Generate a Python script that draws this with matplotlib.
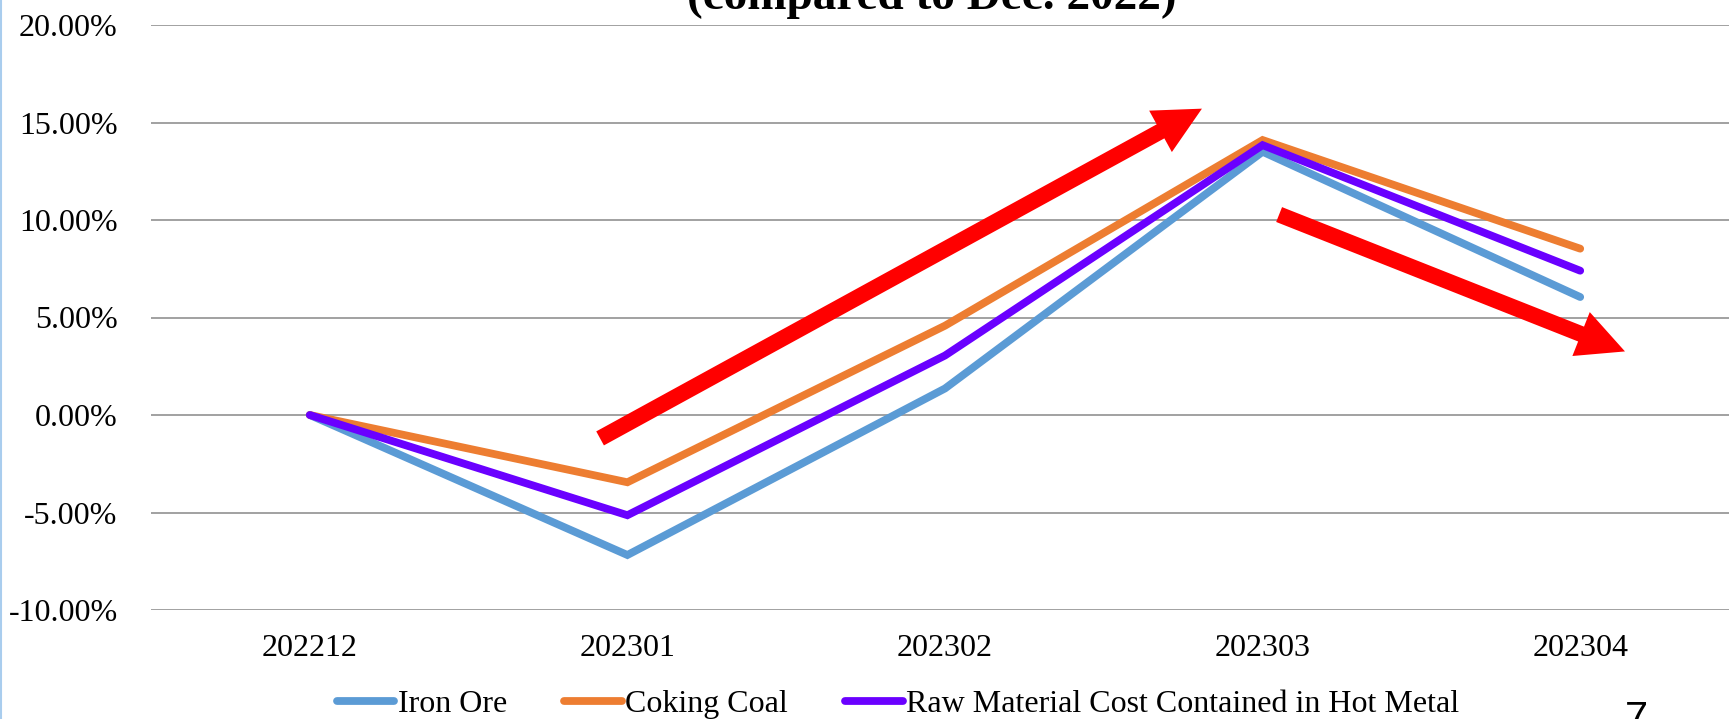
import numpy as np
import matplotlib.pyplot as plt
from matplotlib.lines import Line2D

months = ["202212", "202301", "202302", "202303", "202304"]
iron_ore = [0.0, -7.18, 1.36, 13.5, 6.05]
coking_coal = [0.0, -3.45, 4.58, 14.1, 8.53]
raw_material = [0.0, -5.14, 3.05, 13.84, 7.4]

# trend arrows drawn over the chart: (tail_x, tail_y, tip_x, tip_y) in data units
arrow_up = (0.914, -1.2, 2.809, 15.71)
arrow_down = (3.052, 10.28, 4.141, 3.26)

plt.rcParams["font.family"] = ["Liberation Serif", "DejaVu Serif"]

fig = plt.figure(figsize=(17.29, 7.19), dpi=100)
ax = fig.add_axes([151 / 1729, 109 / 719, (1739 - 151) / 1729, (610 - 25) / 719])

x = np.arange(len(months))
series = [
    ("Iron Ore", iron_ore, "#5B9BD5"),
    ("Coking Coal", coking_coal, "#ED7D31"),
    ("Raw Material Cost Contained in Hot Metal", raw_material, "#6A00FF"),
]
for name, vals, col in series:
    ax.plot(x, vals, color=col, linewidth=5.6, label=name,
            solid_capstyle="round", solid_joinstyle="miter", zorder=3)

for tx, ty, hx, hy in [arrow_up, arrow_down]:
    ax.annotate("", xy=(hx, hy), xytext=(tx, ty),
                arrowprops=dict(arrowstyle="simple,head_length=3.4,head_width=3.4,tail_width=1.15",
                                mutation_scale=10, color="#FF0000", shrinkA=0, shrinkB=0,
                                linewidth=0),
                zorder=4)

ax.set_xlim(-0.5, len(months) - 0.5)
ax.set_ylim(-10, 20)
ax.set_yticks(np.arange(-10, 21, 5))
ax.set_yticklabels([f"{v:.2f}%" for v in np.arange(-10, 21, 5)])
ax.set_xticks(x)
ax.set_xticklabels(months)
ax.tick_params(axis="both", length=0, labelsize=23, colors="black")
ax.tick_params(axis="y", pad=24)
ax.tick_params(axis="x", pad=17)
ax.grid(True, axis="y", color="#9A9A9A", linewidth=1.3)
ax.set_axisbelow(True)
for s in ax.spines.values():
    s.set_visible(False)

fig.text(932 / 1729, 1 - 9 / 719, "(compared to Dec. 2022)", ha="center", va="baseline",
         fontsize=34, fontweight="bold")

fig.legend(loc="center", bbox_to_anchor=(898 / 1729, 1 - 704 / 719), ncol=3, frameon=False,
           fontsize=23, handlelength=1.8, handletextpad=0.1, columnspacing=1.8)

fig.text(1636 / 1729, 1 - 700 / 719, "7", ha="center", va="top", fontsize=30,
         family=["Liberation Sans", "DejaVu Sans"])

fig.add_artist(Line2D([0.0008, 0.0008], [0, 1], color="#A9CDEE", linewidth=1.5,
                      transform=fig.transFigure))

fig.savefig("out.png", dpi=100)
